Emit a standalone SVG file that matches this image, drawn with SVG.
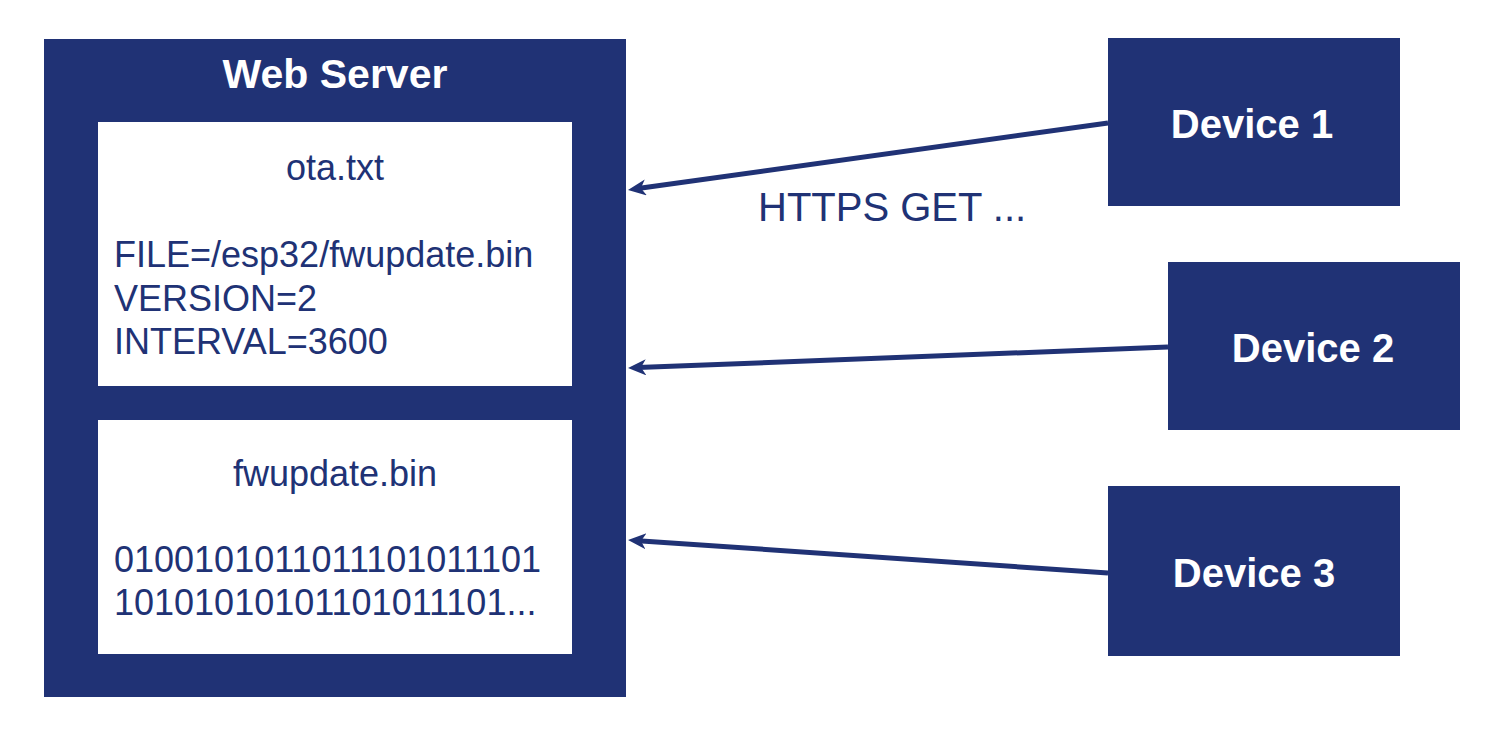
<svg xmlns="http://www.w3.org/2000/svg" width="1508" height="734" viewBox="0 0 1508 734">
<style>
.box{fill:#203275}
.inner{fill:#ffffff}
.title{font-family:"Liberation Sans",Arial,sans-serif;font-weight:bold;font-size:40px;fill:#ffffff}
.txt{font-family:"Liberation Sans",Arial,sans-serif;font-size:36px;fill:#203275}
.lbl{font-family:"Liberation Sans",Arial,sans-serif;font-size:40px;fill:#203275}
.conn{stroke:#203275;stroke-width:5;fill:none;marker-end:url(#arr)}
</style>
<defs>
<marker id="arr" markerUnits="userSpaceOnUse" markerWidth="20" markerHeight="18" refX="8" refY="8" orient="auto" viewBox="0 0 20 18">
<path d="M0,0 L18,8 L0,16 L5,8 z" fill="#203275"/>
</marker>
</defs>
<rect width="1508" height="734" fill="#ffffff"/>
<g id="web-server">
<rect class="box" x="44" y="39" width="582" height="658"/>
<text class="title" x="335" y="88" text-anchor="middle" style="font-size:41px">Web Server</text>
<g id="ota-txt">
<rect class="inner" x="98" y="122" width="474" height="264"/>
<text class="txt" x="335" y="180" text-anchor="middle">ota.txt</text>
<text class="txt" x="114" y="267">FILE=/esp32/fwupdate.bin</text>
<text class="txt" x="114" y="311">VERSION=2</text>
<text class="txt" x="114" y="354">INTERVAL=3600</text>
</g>
<g id="fwupdate-bin">
<rect class="inner" x="98" y="420" width="474" height="234"/>
<text class="txt" x="335" y="486" text-anchor="middle">fwupdate.bin</text>
<text class="txt" x="114" y="572">0100101011011101011101</text>
<text class="txt" x="114" y="615">10101010101101011101...</text>
</g>
</g>
<g id="device1">
<rect class="box" x="1108" y="38" width="292" height="168"/>
<text class="title" x="1252" y="138" text-anchor="middle">Device 1</text>
</g>
<g id="device2">
<rect class="box" x="1168" y="262" width="292" height="168"/>
<text class="title" x="1313" y="362" text-anchor="middle">Device 2</text>
</g>
<g id="device3">
<rect class="box" x="1108" y="486" width="292" height="170"/>
<text class="title" x="1254" y="587" text-anchor="middle">Device 3</text>
</g>
<g id="connectors">
<line class="conn" x1="1108" y1="123" x2="637.9" y2="188.6"/>
<line class="conn" x1="1168" y1="347" x2="638" y2="367.6"/>
<line class="conn" x1="1108" y1="573" x2="638" y2="540.7"/>
<text class="lbl" x="758" y="221">HTTPS GET ...</text>
</g>
</svg>
